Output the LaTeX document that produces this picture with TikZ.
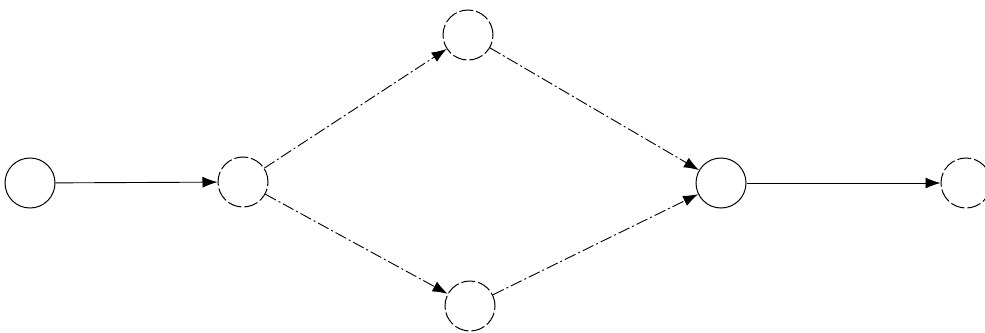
\documentclass[tikz,border=0pt]{standalone}
\usetikzlibrary{arrows.meta}
\begin{document}
\begin{tikzpicture}[x=1pt,y=-1pt,
  ev/.style={circle,draw,line width=1pt,minimum size=50pt,inner sep=0pt},
  evd/.style={ev,dash pattern=on 14pt off 3pt},
  act/.style={line width=0.9pt,-{Latex[length=15pt,width=11pt]}},
  actd/.style={act,dash pattern=on 12pt off 3pt on 2pt off 3pt}]
\useasboundingbox (0,0) rectangle (985,332);
\node[ev] (a) at (30,183) {};
\node[evd] (b) at (243,182) {};
\node[evd] (c) at (468,35) {};
\node[evd] (d) at (470,306) {};
\node[ev] (e) at (721,183) {};
\node[evd] (f) at (966,183) {};
\draw[act] (a) -- (b);
\draw[actd] (b) -- (c);
\draw[actd] (b) -- (d);
\draw[actd] (c) -- (e);
\draw[actd] (d) -- (e);
\draw[act] (e) -- (f);
\end{tikzpicture}
\end{document}
